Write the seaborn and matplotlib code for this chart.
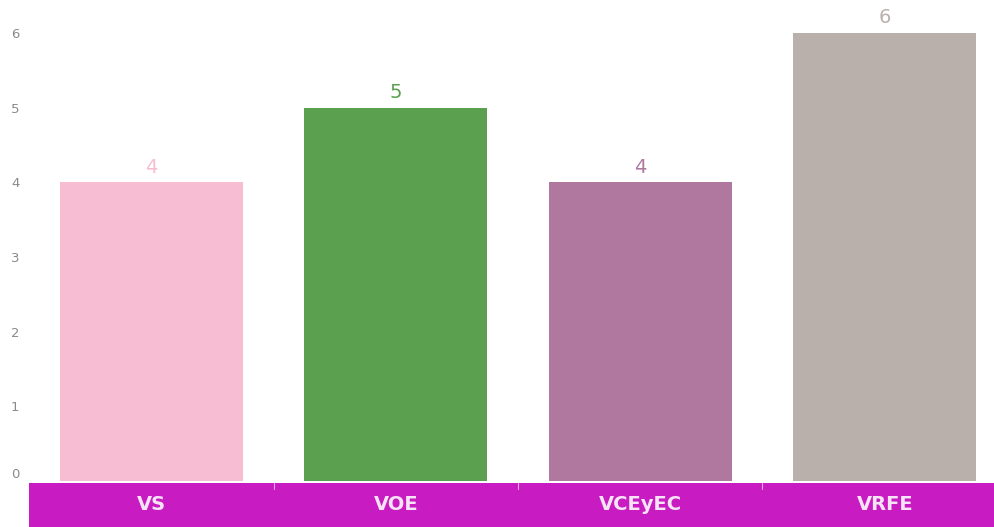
import matplotlib
matplotlib.use("Agg")
import matplotlib.pyplot as plt
from matplotlib.patches import Rectangle
import seaborn as sns
import pandas as pd

categories = ["VS", "VOE", "VCEyEC", "VRFE"]
values = [4, 5, 4, 6]
colors = ["#F7BDD3", "#5AA04F", "#B0779F", "#BAB0AB"]
yticks = [0, 1, 2, 3, 4, 5, 6]

df = pd.DataFrame({"categoria": categories, "valor": values})

sns.set_style("white")
plt.rcParams["font.family"] = ["DejaVu Sans"]

fig = plt.figure(figsize=(9.94, 5.27), dpi=100)
ax = fig.add_axes([29 / 994, 46 / 527, 978 / 994, 481 / 527])

sns.barplot(data=df, x="categoria", y="valor", hue="categoria",
            palette=colors, width=0.75, legend=False, ax=ax,
            saturation=1, edgecolor="none")

ax.set_ylim(0, 6.44)
ax.set_xlim(-0.5, len(categories) - 0.5)
ax.set_yticks(yticks)
ax.set_yticklabels([str(t) for t in yticks], color="#8a8a8a", fontsize=9.5)
ax.tick_params(axis="y", length=2, width=0.6, color="#dddddd", pad=5)
# the zero label sits a little above the baseline
ax.get_yticklabels()[0].set_va("bottom")
ax.set_xlabel("")
ax.set_ylabel("")
for s in ax.spines.values():
    s.set_visible(False)

# value labels in the colour of each bar
for cont, col in zip(ax.containers, colors):
    ax.bar_label(cont, color=col, fontsize=14, padding=4)

# magenta category band under the axes
band = Rectangle((0, -48 / 481), 1, 46 / 481, transform=ax.transAxes,
                 facecolor="#C81CC2", edgecolor="none", clip_on=False)
ax.add_patch(band)
ax.set_xticks(range(len(categories)))
ax.set_xticklabels([])
for i, c in enumerate(categories):
    ax.text(i, -24 / 481, c, transform=ax.get_xaxis_transform(),
            ha="center", va="center", color="#F6E4F6",
            fontsize=14, fontweight="bold")
    if i > 0:
        ax.plot([i - 0.5, i - 0.5], [-2 / 481, -8 / 481],
                transform=ax.get_xaxis_transform(), color="#E8A8E6",
                lw=0.8, clip_on=False)
ax.tick_params(axis="x", length=0)

fig.savefig("out.png", dpi=100)
